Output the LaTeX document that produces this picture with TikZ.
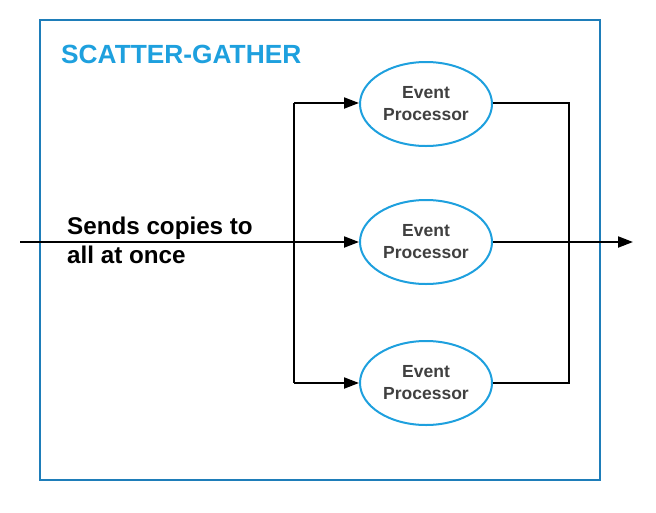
\documentclass[tikz,border=0pt]{standalone}
\usepackage{fontspec}
\setmainfont{Liberation Sans}
\usetikzlibrary{shapes.geometric,arrows.meta}
\definecolor{boxblue}{RGB}{30,125,185}
\definecolor{lightblue}{RGB}{30,160,222}
\definecolor{txtgray}{RGB}{64,64,64}
\tikzset{
  proc/.style={ellipse, draw=lightblue, line width=2pt, minimum width=132pt, minimum height=84pt, inner sep=0pt, align=center, text=txtgray, font=\fontsize{17.5pt}{22pt}\selectfont\bfseries},
  wire/.style={draw=black, line width=2pt},
  arr/.style={wire, -{Triangle[length=15pt,width=11pt]}},
}
\begin{document}
\begin{tikzpicture}[x=1pt,y=-1pt]
\useasboundingbox (0,0) rectangle (656,512);
\draw[boxblue, line width=2pt] (40,20) rectangle (600,480);
\node[anchor=base west, inner sep=0pt, text=lightblue, font=\fontsize{26.3pt}{30pt}\selectfont\bfseries] (title) at (61,63.5) {SCATTER-GATHER};
\node[proc] (e1) at (426,104) {Event\\Processor};
\node[proc] (e2) at (426,242) {Event\\Processor};
\node[proc] (e3) at (426,383) {Event\\Processor};
\coordinate (in) at (20,242);
\coordinate (s1) at (294,103);
\coordinate (s3) at (294,383);
\coordinate (g1) at (569,103);
\coordinate (g3) at (569,383);
\coordinate (out) at (633,242);
\draw[wire] (s1) -- (s3);
\draw[arr] (in) -- (e2.west);
\draw[arr] (s1) -- (e1.west |- s1);
\draw[arr] (s3) -- (e3.west);
\draw[wire] (e1.east |- g1) -- (g1) -- (g3) -- (e3.east);
\draw[arr] (e2.east) -- (out);
\node[anchor=base west, inner sep=0pt, align=left, font=\fontsize{24.2pt}{29pt}\selectfont\bfseries] (lbl) at (67,263.5) {Sends copies to\\all at once};
\end{tikzpicture}
\end{document}
